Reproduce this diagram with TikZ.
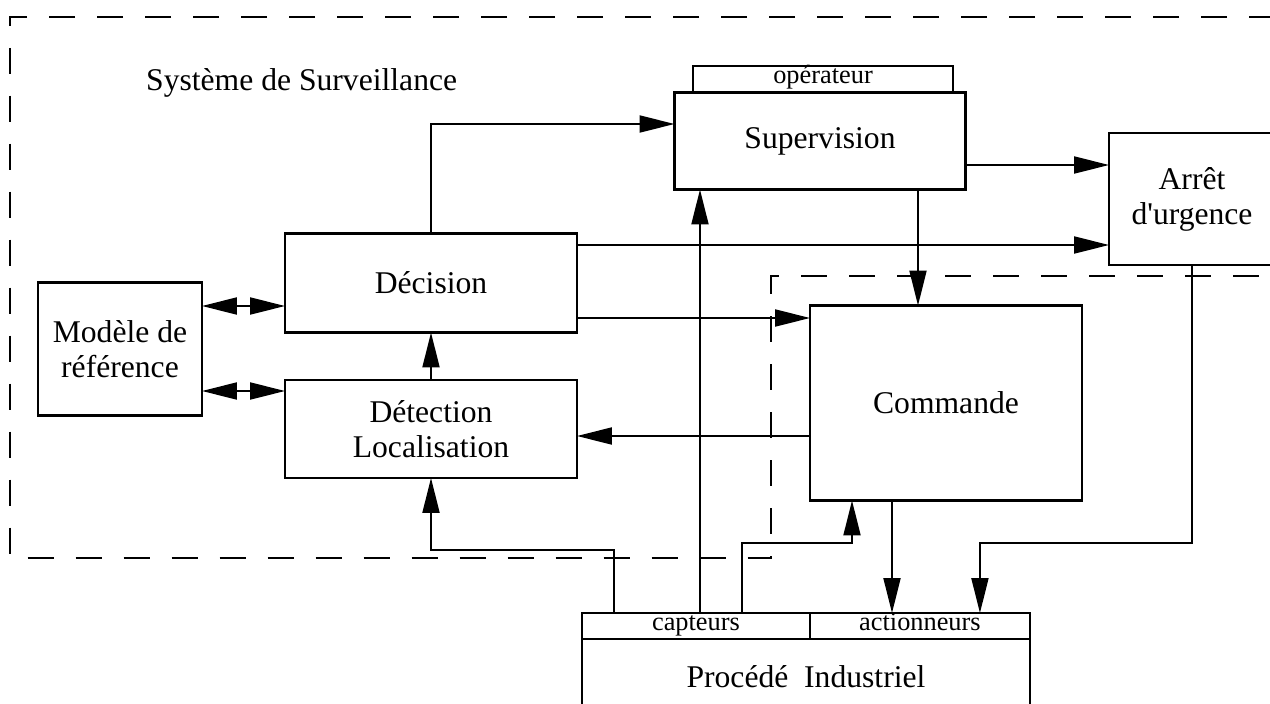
\documentclass[tikz,border=0pt]{standalone}
\usepackage{fontspec}
\setmainfont{Liberation Serif}
\usepackage{tikz}
\usetikzlibrary{calc,arrows.meta}

\begin{document}
\begin{tikzpicture}[x=0.02cm, y=-0.02cm,
		bloc/.style={draw, line width=1.3pt, inner sep=0pt, outer sep=0pt, align=center, font=\fontsize{18}{20}\selectfont},
		petit/.style={draw, line width=1.3pt, inner sep=0pt, outer sep=0pt, minimum height=0.52cm, text height=1.55ex, text depth=0.35ex, font=\fontsize{15}{16}\selectfont},
		fleche/.style={line width=1.1pt, -{Triangle[length=0.7cm, width=0.34cm]}},
		dfleche/.style={line width=1.1pt, {Triangle[length=0.7cm, width=0.34cm]}-{Triangle[length=0.7cm, width=0.34cm]}},
		zone/.style={line width=1.3pt, dash pattern=on 0.52cm off 0.44cm}]
			\useasboundingbox (0,0) rectangle (1270,703);
			% zone de surveillance
			\draw[zone] (1275,17) -- (10,17) -- (10,558) -- (771,558) -- (771,276) -- (1275,276);
			\node[anchor=west, font=\fontsize{18}{20}\selectfont] (titre) at (140,83) {Système de Surveillance};
			\node[bloc, minimum width=3.28cm, minimum height=2.66cm] (modele) at (120,349) {Modèle de\\référence};
			\node[bloc, minimum width=5.84cm, minimum height=1.98cm] (decision) at (431,283) {Décision};
			\node[bloc, minimum width=5.84cm, minimum height=1.96cm] (detection) at (431,429) {Détection\\Localisation};
			\node[bloc, minimum width=5.82cm, minimum height=1.94cm] (supervision) at (820,141) {Supervision};
			\node[petit, minimum width=5.2cm, anchor=south] (operateur) at (823,92) {opérateur};
			\node[bloc, minimum width=3.32cm, minimum height=2.64cm] (arret) at (1192,199) {Arrêt\\d\textquotesingle urgence};
			\node[bloc, minimum width=5.44cm, minimum height=3.9cm] (commande) at (946,403) {Commande};
			\node[petit, minimum width=4.56cm, anchor=south west] (capteurs) at (582,639) {capteurs};
			\node[petit, minimum width=4.4cm, anchor=south west] (actionneurs) at (capteurs.south east) {actionneurs};
			\node[bloc, minimum width=8.96cm, minimum height=1.5cm, anchor=north west] (procede) at (capteurs.south west) {Procédé\hspace{0.5em}Industriel};
			% liaisons
			\draw[fleche] (decision.north) |- ($(supervision.west)+(0,-17)$);
			\draw[fleche] ($(supervision.east)+(0,24)$) coordinate (s1) -- (s1 -| arret.west);
			\draw[fleche] ($(decision.east)+(0,-38)$) coordinate (d1) -- (d1 -| arret.west);
			\draw[fleche] ($(decision.east)+(0,35)$) coordinate (d2) -- (d2 -| commande.west);
			\draw[fleche] ($(supervision.south)+(98,0)$) coordinate (s2) -- (s2 |- commande.north);
			\draw[fleche] ($(commande.west)+(0,33)$) coordinate (c1) -- (c1 -| detection.east);
			\draw[fleche] (detection.north) -- (decision.south);
			\draw[dfleche] ($(modele.east)+(0,-43)$) coordinate (m1) -- (m1 -| decision.west);
			\draw[dfleche] ($(modele.east)+(0,42)$) coordinate (m2) -- (m2 -| detection.west);
			\draw[fleche] ($(capteurs.north)+(-82,0)$) -- ++(0,-63) -| (detection.south);
			\draw[fleche] ($(capteurs.north)+(4,0)$) coordinate (k1) -- (k1 |- supervision.south);
			\draw[fleche] ($(capteurs.north)+(46,0)$) -- ++(0,-70) -| ($(commande.south)+(-94,0)$);
			\draw[fleche] ($(commande.south)+(-54,0)$) coordinate (c2) -- (c2 |- actionneurs.north);
			\draw[fleche] (arret.south) -- ++(0,278) -| ($(actionneurs.north)+(60,0)$);
		\end{tikzpicture}
\end{document}
